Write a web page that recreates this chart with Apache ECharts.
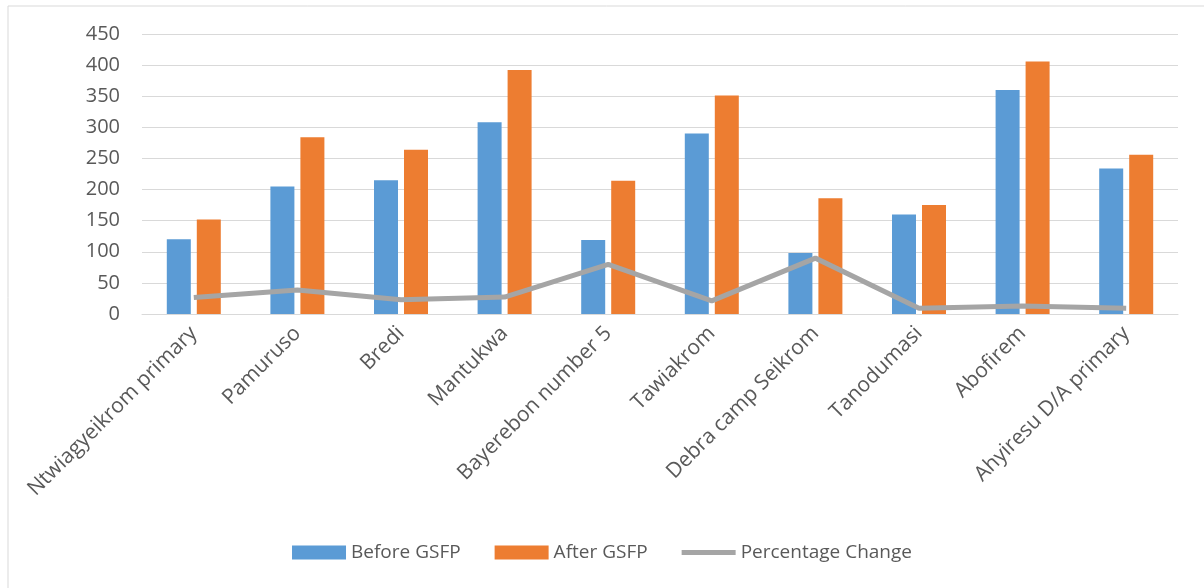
<!DOCTYPE html>
<html>
<head>
<meta charset="utf-8">
<script src="https://cdn.jsdelivr.net/npm/echarts@6/dist/echarts.min.js"></script>
<style>
  html, body { margin: 0; padding: 0; background: #fff; }
  #chart { width: 1204px; height: 588px; }
</style>
</head>
<body>
<div id="chart"></div>
<script>
// schools
var schools = ['Ntwiagyeikrom primary', 'Pamuruso', 'Bredi', 'Mantukwa', 'Bayerebon number 5',
  'Tawiakrom', 'Debra camp Seikrom', 'Tanodumasi', 'Abofirem', 'Ahyiresu D/A primary'];
var beforeGSFP = [120, 205, 215, 308, 119, 290, 98, 160, 360, 234];
var afterGSFP = [152, 284, 264, 392, 214, 351, 186, 175, 406, 256];
var pctChange = [26.7, 38.5, 22.8, 27.3, 79.8, 21.0, 89.8, 9.4, 12.8, 9.4];

var font = '"Open Sans", "Liberation Sans", sans-serif';

var chart = echarts.init(document.getElementById('chart'));
chart.setOption({
    animation: false,
    graphic: [{
        type: 'rect',
        shape: { x: 8, y: 6, width: 1210, height: 600 },
        style: { fill: 'none', stroke: '#d9d9d9', lineWidth: 1 }
    }],
    grid: { left: 142, right: 26, top: 34, bottom: 274 },
    legend: {
        bottom: 21,
        left: 'center',
        itemWidth: 54,
        itemHeight: 14,
        itemGap: 34,
        textStyle: { fontFamily: font, fontSize: 19, color: '#595959' },
        data: [
            { name: 'Before GSFP', icon: 'rect' },
            { name: 'After GSFP', icon: 'rect' },
            { name: 'Percentage Change', icon: 'path://M0,0H54V5H0Z' }
        ]
    },
    xAxis: {
        type: 'category',
        data: schools,
        axisLine: { lineStyle: { color: '#d9d9d9', width: 1 } },
        axisTick: { show: false },
        axisLabel: {
            rotate: 45,
            interval: 0,
            margin: 16,
            fontFamily: font,
            fontSize: 21,
            color: '#595959'
        }
    },
    yAxis: {
        type: 'value',
        min: 0,
        max: 450,
        interval: 50,
        axisLine: { show: false },
        axisTick: { show: false },
        splitLine: { lineStyle: { color: '#d9d9d9', width: 1 } },
        axisLabel: { fontFamily: font, fontSize: 20, color: '#595959', margin: 22 }
    },
    series: [
        {
            name: 'Before GSFP',
            type: 'bar',
            data: beforeGSFP,
            barWidth: 24,
            barGap: '25%',
            itemStyle: { color: '#5b9bd5' }
        },
        {
            name: 'After GSFP',
            type: 'bar',
            data: afterGSFP,
            barWidth: 24,
            itemStyle: { color: '#ed7d31' }
        },
        {
            name: 'Percentage Change',
            type: 'line',
            data: pctChange,
            symbol: 'none',
            lineStyle: { color: '#a5a5a5', width: 5 },
            itemStyle: { color: '#a5a5a5' }
        }
    ]
});
</script>
</body>
</html>
